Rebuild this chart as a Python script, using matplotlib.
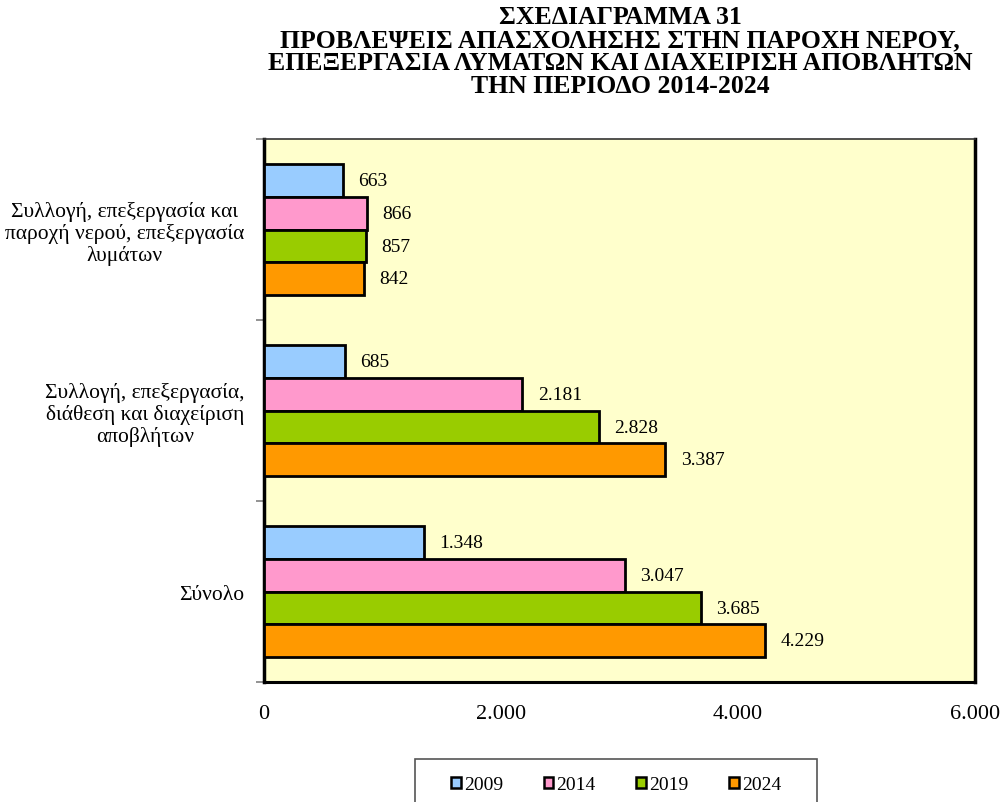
import matplotlib
matplotlib.use("Agg")
import matplotlib.pyplot as plt
import numpy as np
from matplotlib.patches import Patch, Rectangle

plt.rcParams['font.family'] = ['Liberation Serif', 'DejaVu Serif']

title = ("ΣΧΕΔΙΑΓΡΑΜΜΑ 31\n"
         "ΠΡΟΒΛΕΨΕΙΣ ΑΠΑΣΧΟΛΗΣΗΣ ΣΤΗΝ ΠΑΡΟΧΗ ΝΕΡΟΥ,\n"
         "ΕΠΕΞΕΡΓΑΣΙΑ ΛΥΜΑΤΩΝ ΚΑΙ ΔΙΑΧΕΙΡΙΣΗ ΑΠΟΒΛΗΤΩΝ\n"
         "ΤΗΝ ΠΕΡΙΟΔΟ 2014-2024")

categories = [
    "Συλλογή, επεξεργασία και\nπαροχή νερού, επεξεργασία\nλυμάτων",
    "Συλλογή, επεξεργασία,\nδιάθεση και διαχείριση\nαποβλήτων",
    "Σύνολο",
]
years = ["2009", "2014", "2019", "2024"]
values_2009 = [663, 685, 1348]
values_2014 = [866, 2181, 3047]
values_2019 = [857, 2828, 3685]
values_2024 = [842, 3387, 4229]
series = [values_2009, values_2014, values_2019, values_2024]
colors = ["#99CCFF", "#FF99CC", "#99CC00", "#FF9900"]
xticks = [0, 2000, 4000, 6000]


def fmt(v):
    return f"{v:,}".replace(",", ".")


fig = plt.figure(figsize=(10, 8.03), dpi=100)
ax = fig.add_axes([0.264, 0.1494, 0.711, 0.6762])
ax.set_facecolor("#FFFFCC")

y = np.arange(len(categories))
h = 0.182
for i, (vals, col) in enumerate(zip(series, colors)):
    pos = y + (i - 1.5) * h
    ax.barh(pos, vals, height=h, color=col, edgecolor="black", linewidth=2, zorder=3)
    for p, v in zip(pos, vals):
        ax.annotate(fmt(v), (v, p), xytext=(11, 0), textcoords="offset points",
                    ha="left", va="center", fontsize=14, zorder=4)

ax.set_xlim(0, 6000)
ax.set_ylim(2.5, -0.5)
ax.set_xticks(xticks)
ax.set_xticklabels([fmt(t) for t in xticks], fontsize=16)
ax.tick_params(axis="x", length=0, pad=16)

ax.set_yticks(y)
ax.set_yticklabels(categories, fontsize=15.5, multialignment="center", linespacing=1.15)
ax.tick_params(axis="y", which="major", length=0, pad=14)
ax.set_yticks([-0.5, 0.5, 1.5, 2.5], minor=True)
ax.tick_params(axis="y", which="minor", length=6, width=1.2, color="#808080")

for side, lw, col in [("left", 2.5, "black"), ("bottom", 2.2, "black"),
                      ("right", 2.5, "black"), ("top", 1.2, "#333333")]:
    ax.spines[side].set_linewidth(lw)
    ax.spines[side].set_color(col)

fig.text(0.62, 0.992, title, ha="center", va="top", fontsize=18.5,
         fontweight="bold", linespacing=1.0)

# legend entries without their own frame; the box is drawn separately
handles = [Patch(facecolor=c, edgecolor="black", linewidth=1.8, label=yr)
           for c, yr in zip(colors, years)]
fig.legend(handles=handles, loc="upper center", bbox_to_anchor=(0.616, 1 - 752 / 803),
           ncol=4, fontsize=14, frameon=False,
           handlelength=0.5, handleheight=0.5, handletextpad=0.15,
           columnspacing=2.1, borderpad=0.8)
fig.patches.append(Rectangle((0.415, 1 - 815 / 803), 0.402, 55 / 803,
                             transform=fig.transFigure, facecolor="none",
                             edgecolor="#555555", linewidth=1.2))

fig.savefig("out.png", dpi=100)
